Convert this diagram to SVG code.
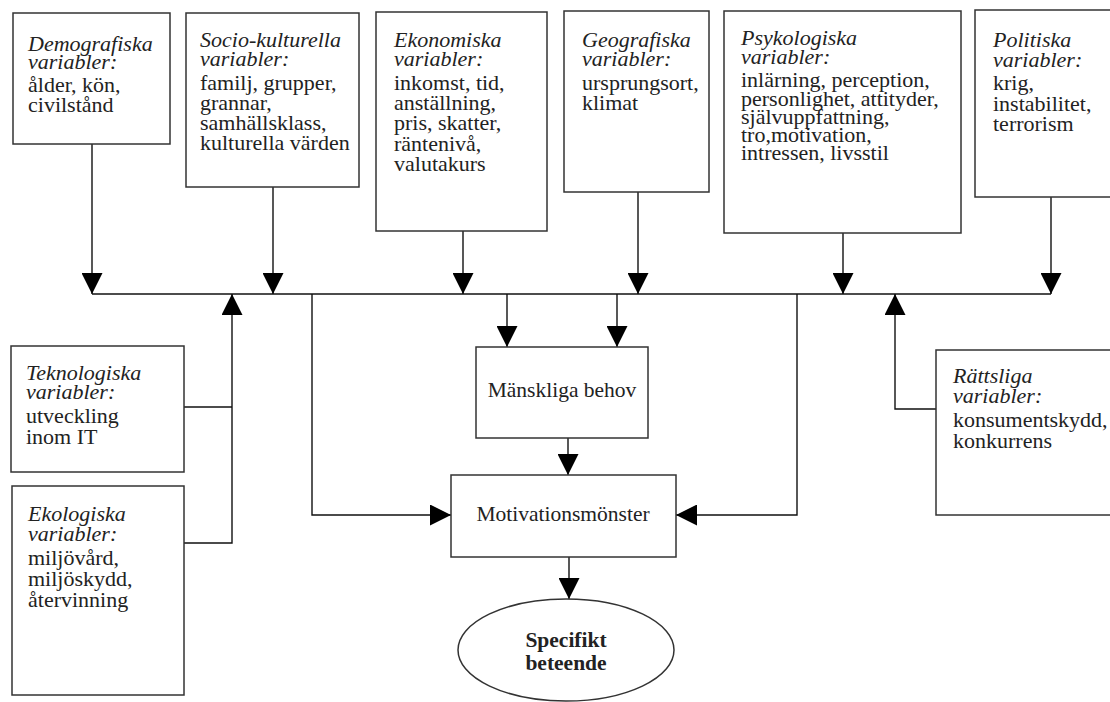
<svg xmlns="http://www.w3.org/2000/svg" width="1110" height="702" viewBox="0 0 1110 702">
<style>
.box{fill:#fff;stroke:#333;stroke-width:1.5}
.t{font-family:"Liberation Serif","Times New Roman",serif;font-size:22px;fill:#222}
.m{font-size:21.5px}
.h{font-style:italic}
.c{text-anchor:middle}
.b{font-weight:bold}
.ln{fill:none;stroke:#111;stroke-width:1.4}
.ar{marker-end:url(#ah)}
</style>
<defs>
<marker id="ah" viewBox="0 0 21 21" refX="21" refY="10.5" markerWidth="21" markerHeight="21" markerUnits="userSpaceOnUse" orient="auto">
<path d="M0,0 L21,10.5 L0,21 z" fill="#000"/>
</marker>
</defs>
<rect width="1110" height="702" fill="#fff"/>
<g id="connectors">
<path class="ln" d="M92,294 H1051"/>
<path class="ln ar" d="M92,144 V294"/>
<path class="ln ar" d="M273,187 V294"/>
<path class="ln ar" d="M463,231 V294"/>
<path class="ln ar" d="M638,192 V294"/>
<path class="ln ar" d="M843,233 V294"/>
<path class="ln ar" d="M1051,197 V294"/>
<path class="ln" d="M184,407 H232"/>
<path class="ln ar" d="M184,543 H232 V294"/>
<path class="ln ar" d="M936,409 H895 V294"/>
<path class="ln ar" d="M507,294 V347"/>
<path class="ln ar" d="M617,294 V347"/>
<path class="ln ar" d="M568,438 V475"/>
<path class="ln ar" d="M312,294 V515 H451"/>
<path class="ln ar" d="M797,294 V515 H676"/>
<path class="ln ar" d="M569,557 V599"/>
</g>
<g id="demografiska">
<rect class="box" x="13" y="13" width="157" height="131"/>
<text class="t" x="28"><tspan class="h" y="51">Demografiska</tspan><tspan class="h" x="28" y="69">variabler:</tspan><tspan x="28" y="92">ålder, kön,</tspan><tspan x="28" y="112">civilstånd</tspan></text>
</g>
<g id="sociokulturella">
<rect class="box" x="186" y="13" width="173" height="174"/>
<text class="t" x="200"><tspan class="h" y="47">Socio-kulturella</tspan><tspan class="h" x="200" y="66">variabler:</tspan><tspan x="200" y="90">familj, grupper,</tspan><tspan x="200" y="110">grannar,</tspan><tspan x="200" y="130">samhällsklass,</tspan><tspan x="200" y="150">kulturella värden</tspan></text>
</g>
<g id="ekonomiska">
<rect class="box" x="376" y="12" width="171" height="219"/>
<text class="t" x="394"><tspan class="h" y="47">Ekonomiska</tspan><tspan class="h" x="394" y="66">variabler:</tspan><tspan x="394" y="90">inkomst, tid,</tspan><tspan x="394" y="110">anställning,</tspan><tspan x="394" y="130">pris, skatter,</tspan><tspan x="394" y="151">räntenivå,</tspan><tspan x="394" y="171">valutakurs</tspan></text>
</g>
<g id="geografiska">
<rect class="box" x="564" y="11" width="145" height="181"/>
<text class="t" x="582"><tspan class="h" y="47">Geografiska</tspan><tspan class="h" x="582" y="66">variabler:</tspan><tspan x="582" y="90">ursprungsort,</tspan><tspan x="582" y="110">klimat</tspan></text>
</g>
<g id="psykologiska">
<rect class="box" x="724" y="11" width="237" height="222"/>
<text class="t" x="741"><tspan class="h" y="45">Psykologiska</tspan><tspan class="h" x="741" y="64">variabler:</tspan><tspan x="741" y="87">inlärning, perception,</tspan><tspan x="741" y="106">personlighet, attityder,</tspan><tspan x="741" y="124">självuppfattning,</tspan><tspan x="741" y="142">tro,motivation,</tspan><tspan x="741" y="160">intressen, livsstil</tspan></text>
</g>
<g id="politiska">
<rect class="box" x="975" y="10" width="140" height="187"/>
<text class="t" x="993"><tspan class="h" y="47">Politiska</tspan><tspan class="h" x="993" y="67">variabler:</tspan><tspan x="993" y="90">krig,</tspan><tspan x="993" y="111">instabilitet,</tspan><tspan x="993" y="131">terrorism</tspan></text>
</g>
<g id="teknologiska">
<rect class="box" x="11" y="346" width="173" height="126"/>
<text class="t" x="26"><tspan class="h" y="380">Teknologiska</tspan><tspan class="h" x="26" y="399">variabler:</tspan><tspan x="26" y="423">utveckling</tspan><tspan x="26" y="444">inom IT</tspan></text>
</g>
<g id="ekologiska">
<rect class="box" x="12" y="486" width="172" height="209"/>
<text class="t" x="28"><tspan class="h" y="521">Ekologiska</tspan><tspan class="h" x="28" y="541">variabler:</tspan><tspan x="28" y="565">miljövård,</tspan><tspan x="28" y="586">miljöskydd,</tspan><tspan x="28" y="607">återvinning</tspan></text>
</g>
<g id="rattsliga">
<rect class="box" x="936" y="350" width="180" height="165"/>
<text class="t" x="953"><tspan class="h" y="383">Rättsliga</tspan><tspan class="h" x="953" y="403">variabler:</tspan><tspan x="953" y="427">konsumentskydd,</tspan><tspan x="953" y="448">konkurrens</tspan></text>
</g>
<g id="manskliga-behov">
<rect class="box" x="476" y="347" width="172" height="91"/>
<text class="t m c" x="562" y="397">Mänskliga behov</text>
</g>
<g id="motivationsmonster">
<rect class="box" x="451" y="475" width="225" height="82"/>
<text class="t m c" x="563" y="521">Motivationsmönster</text>
</g>
<g id="specifikt-beteende">
<ellipse class="box" cx="566" cy="650" rx="108" ry="51"/>
<text class="t m c b" x="566"><tspan y="647">Specifikt</tspan><tspan x="566" y="670">beteende</tspan></text>
</g>
</svg>
